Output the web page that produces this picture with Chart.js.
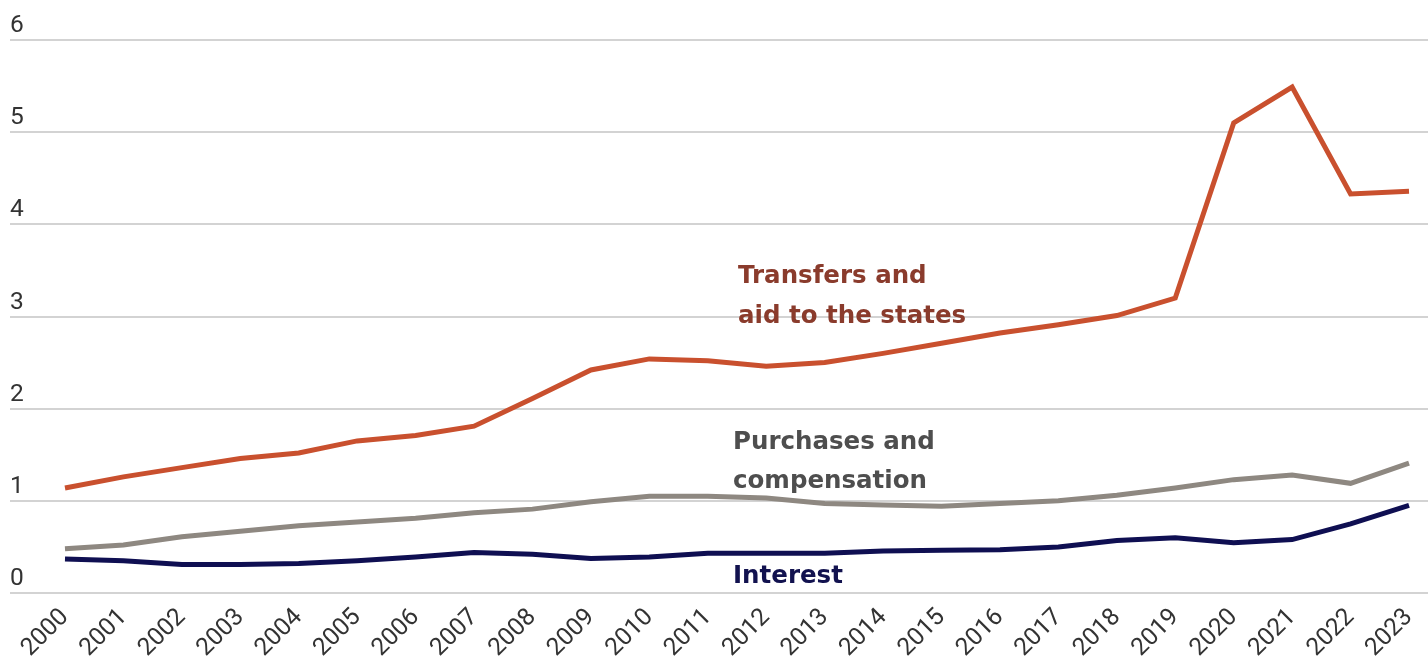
<!DOCTYPE html>
<html>
<head>
<meta charset="utf-8">
<script src="https://cdn.jsdelivr.net/npm/chart.js@4.4.1/dist/chart.umd.min.js"></script>
<style>
  html, body { margin: 0; padding: 0; background: #ffffff; }
  #wrap { width: 1428px; height: 661px; position: relative; }
</style>
</head>
<body>
<div id="wrap"><canvas id="c" width="1428" height="661"></canvas></div>
<script>
const years = ['2000','2001','2002','2003','2004','2005','2006','2007','2008','2009','2010','2011','2012','2013','2014','2015','2016','2017','2018','2019','2020','2021','2022','2023'];
const transfers = [1.14,1.26,1.36,1.46,1.52,1.65,1.71,1.81,2.11,2.42,2.54,2.52,2.46,2.50,2.60,2.71,2.82,2.91,3.01,3.20,5.10,5.49,4.33,4.36];
const purchases = [0.48,0.52,0.61,0.67,0.73,0.77,0.81,0.87,0.91,0.99,1.05,1.05,1.03,0.97,0.955,0.94,0.97,1.00,1.06,1.14,1.23,1.28,1.19,1.41];
const interest  = [0.37,0.35,0.31,0.31,0.32,0.35,0.39,0.44,0.42,0.375,0.39,0.43,0.43,0.43,0.455,0.465,0.47,0.50,0.57,0.60,0.545,0.58,0.75,0.95];
const yTicks = [0,1,2,3,4,5,6];

const labelsPlugin = {
  id: 'seriesLabels',
  afterDatasetsDraw(chart) {
    const ctx = chart.ctx;
    ctx.save();
    ctx.font = 'bold 24.5px "DejaVu Sans"';
    ctx.textAlign = 'left';
    ctx.textBaseline = 'alphabetic';
    ctx.fillStyle = '#8a3b2c';
    ctx.fillText('Transfers and', 738, 283);
    ctx.fillText('aid to the states', 738, 323);
    ctx.fillStyle = '#4e4e4e';
    ctx.fillText('Purchases and', 733, 449);
    ctx.fillText('compensation', 733, 488);
    ctx.fillStyle = '#12124f';
    ctx.fillText('Interest', 733, 583);
    ctx.restore();
  }
};

const toPts = arr => arr.map((v, i) => ({ x: i, y: v }));

new Chart(document.getElementById('c'), {
  type: 'line',
  data: {
    datasets: [
      { label: 'Transfers and aid to the states', data: toPts(transfers), borderColor: '#c9502e', borderWidth: 5, pointRadius: 0, tension: 0, borderJoinStyle: 'miter', fill: false },
      { label: 'Purchases and compensation', data: toPts(purchases), borderColor: '#8e8881', borderWidth: 5, pointRadius: 0, tension: 0, borderJoinStyle: 'miter', fill: false },
      { label: 'Interest', data: toPts(interest), borderColor: '#0f0f52', borderWidth: 5, pointRadius: 0, tension: 0, borderJoinStyle: 'miter', fill: false }
    ]
  },
  options: {
    responsive: false,
    animation: false,
    layout: { padding: { top: 40, left: 10, right: 0, bottom: 0 } },
    plugins: { legend: { display: false }, tooltip: { enabled: false }, title: { display: false } },
    scales: {
      x: {
        type: 'linear',
        min: -0.941,
        max: 23.325,
        grid: { display: false, drawTicks: false },
        border: { display: false },
        afterFit(scale) { scale.height = 68; scale.paddingLeft = 0; scale.paddingRight = 0; },
        ticks: {
          stepSize: 1,
          includeBounds: false,
          autoSkip: false,
          maxRotation: 45,
          minRotation: 45,
          padding: 10,
          color: '#333333',
          font: { family: 'Roboto', size: 24.5 },
          callback: (v) => years[v]
        }
      },
      y: {
        min: yTicks[0],
        max: yTicks[yTicks.length - 1],
        afterFit(scale) { scale.width = 0; },
        afterBuildTicks(scale) { scale.ticks = yTicks.map(v => ({ value: v })); },
        grid: { color: '#d3d3d3', lineWidth: 2, drawTicks: false },
        border: { display: false },
        ticks: {
          mirror: true,
          padding: 0,
          labelOffset: -14,
          color: '#333333',
          font: { family: 'Roboto', size: 24.5 },
          callback: (v) => String(v)
        }
      }
    }
  },
  plugins: [labelsPlugin]
});
</script>
</body>
</html>
